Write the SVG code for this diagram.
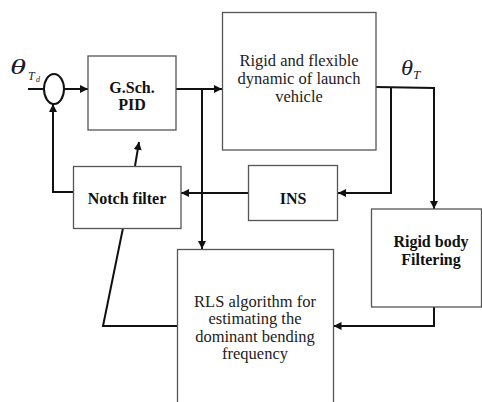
<svg xmlns="http://www.w3.org/2000/svg" width="482" height="402" viewBox="0 0 482 402">
<style>
.box{fill:#fff;stroke:#555;stroke-width:1.3}
.c{fill:none;stroke:#111;stroke-width:2}
.t{font-family:"Liberation Serif","Times New Roman",serif;font-size:16.5px;fill:#222;text-anchor:middle}
.b{font-family:"Liberation Serif","Times New Roman",serif;font-size:16px;font-weight:bold;fill:#111;text-anchor:middle}
.th{font-family:"Liberation Serif","Times New Roman",serif;font-style:italic;fill:#1a1a30}
</style>
<defs>
<marker id="ar" markerUnits="userSpaceOnUse" markerWidth="9" markerHeight="8" refX="8" refY="4" orient="auto">
<path d="M0,0 L8,4 L0,8 z" fill="#111"/>
</marker>
</defs>
<rect width="482" height="402" fill="#fff"/>
<g id="connectors">
<path class="c" d="M28,89 H44"/>
<path class="c" d="M64,89 H88" marker-end="url(#ar)"/>
<path class="c" d="M176,89 H222" marker-end="url(#ar)"/>
<path class="c" d="M202,89 V249" marker-end="url(#ar)"/>
<path class="c" d="M376,87 L434,88 V209" marker-end="url(#ar)"/>
<path class="c" d="M391,87.5 V193 H338" marker-end="url(#ar)"/>
<path class="c" d="M248,193 H181" marker-end="url(#ar)"/>
<path class="c" d="M73,192 H53 V104" marker-end="url(#ar)"/>
<path class="c" d="M135,166 L139,142" marker-end="url(#ar)"/>
<path class="c" d="M123,228 L103,326 H178"/>
<path class="c" d="M434,307 V326 H333.5" marker-end="url(#ar)"/>
</g>
<g id="sum">
<ellipse cx="54" cy="89" rx="10" ry="15" fill="#fff" stroke="#111" stroke-width="2"/>
</g>
<g id="input-label">
<text class="th" x="10" y="74" font-size="21" textLength="16" lengthAdjust="spacingAndGlyphs">θ</text>
<text class="th" x="28" y="80" font-size="12">T</text>
<text class="th" x="36" y="82" font-size="8">d</text>
</g>
<g id="output-label">
<text class="th" x="401" y="75" font-size="20" textLength="12" lengthAdjust="spacingAndGlyphs">θ</text>
<text class="th" x="413" y="79" font-size="13">T</text>
</g>
<g id="pid">
<rect class="box" x="88" y="56" width="88" height="74"/>
<text class="b" x="132" y="93">G.Sch.</text>
<text class="b" x="132" y="110">PID</text>
</g>
<g id="plant">
<rect class="box" x="222.5" y="12.5" width="153.5" height="137.5"/>
<text class="t" x="299" y="66">Rigid and flexible</text>
<text class="t" x="299" y="84">dynamic of launch</text>
<text class="t" x="299" y="101.5">vehicle</text>
</g>
<g id="ins">
<rect class="box" x="248.5" y="165.5" width="89" height="55"/>
<text class="b" x="293" y="203.5">INS</text>
</g>
<g id="notch">
<rect class="box" x="73.5" y="166.5" width="107.5" height="62"/>
<text class="b" x="127" y="204">Notch filter</text>
</g>
<g id="rigid-body">
<rect class="box" x="371.5" y="209" width="110" height="98"/>
<text class="b" x="431" y="247">Rigid body</text>
<text class="b" x="431" y="264.5">Filtering</text>
</g>
<g id="rls">
<rect class="box" x="177.5" y="249.5" width="156" height="170"/>
<text class="t" x="255" y="306.5">RLS algorithm for</text>
<text class="t" x="255" y="324">estimating the</text>
<text class="t" x="255" y="341.5">dominant bending</text>
<text class="t" x="255" y="359">frequency</text>
</g>
</svg>
